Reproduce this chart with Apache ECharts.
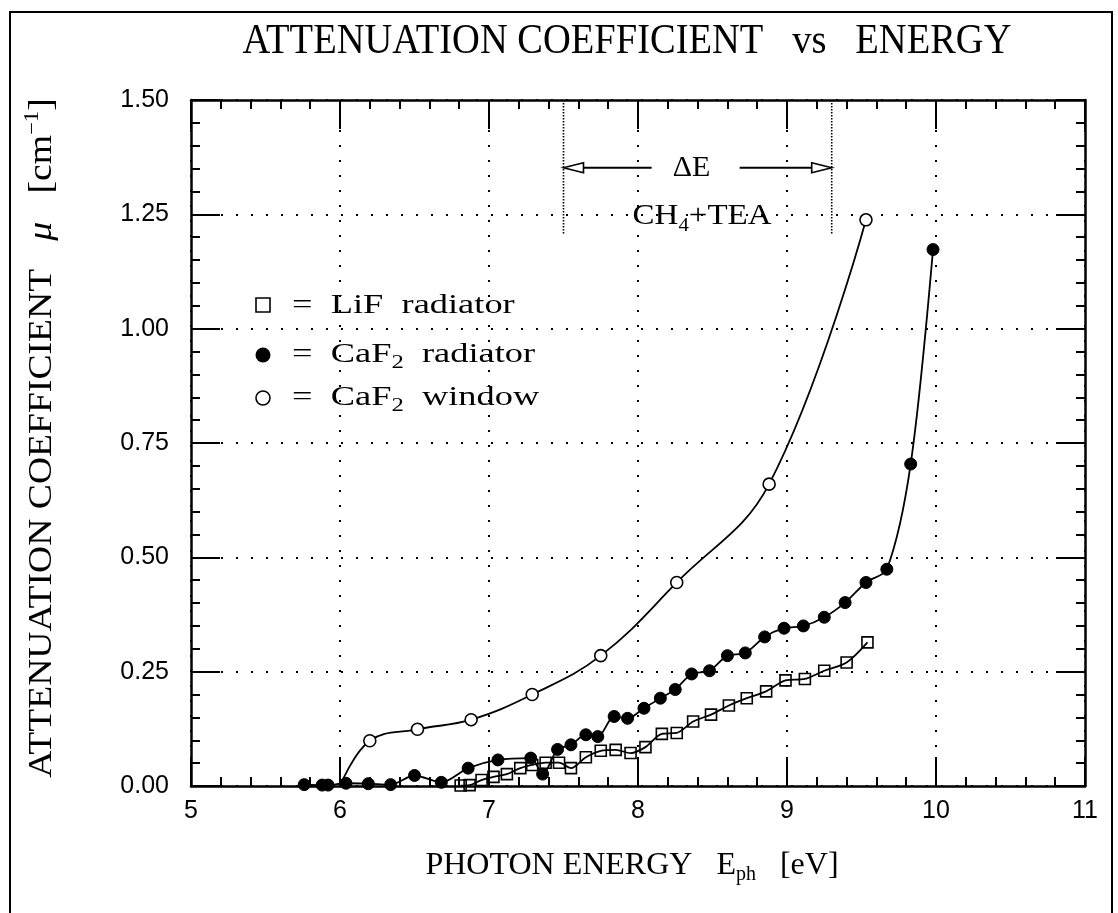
<!DOCTYPE html>
<html>
<head>
<meta charset="utf-8">
<script src="https://cdn.jsdelivr.net/npm/echarts@6/dist/echarts.min.js"></script>
<style>
  html, body { margin: 0; padding: 0; background: #fff; }
  #chart { width: 1118px; height: 913px; }
</style>
</head>
<body>
<div id="chart"></div>
<script>
// Axis ranges and ticks
const xTicks = [5, 6, 7, 8, 9, 10, 11];
const yTicks = [0.00, 0.25, 0.50, 0.75, 1.00, 1.25, 1.50];

// LiF radiator (open squares)
const lifEnergy = [6.81, 6.87, 6.95, 7.03, 7.12, 7.21, 7.29, 7.38, 7.47, 7.55, 7.65, 7.75, 7.85, 7.95, 8.05,
                   8.16, 8.26, 8.37, 8.49, 8.61, 8.73, 8.86, 8.99, 9.12, 9.25, 9.40, 9.54];
const lifMu     = [0.001, 0.002, 0.013, 0.020, 0.026, 0.039, 0.046, 0.051, 0.051, 0.039, 0.063, 0.077, 0.079, 0.072, 0.085,
                   0.114, 0.116, 0.141, 0.156, 0.176, 0.192, 0.207, 0.231, 0.234, 0.252, 0.270, 0.314];

// CaF2 radiator (filled circles)
const cafRadEnergy = [5.76, 5.88, 5.92, 6.04, 6.19, 6.34, 6.50, 6.68, 6.86, 7.06, 7.28, 7.36, 7.46, 7.55, 7.65,
                      7.73, 7.84, 7.93, 8.04, 8.15, 8.25, 8.36, 8.48, 8.60, 8.72, 8.85, 8.98, 9.11, 9.25, 9.39,
                      9.53, 9.67, 9.83, 9.98];
const cafRadMu     = [0.003, 0.002, 0.002, 0.006, 0.005, 0.003, 0.023, 0.008, 0.039, 0.057, 0.061, 0.026, 0.080, 0.090, 0.112,
                      0.108, 0.152, 0.148, 0.170, 0.192, 0.211, 0.245, 0.252, 0.285, 0.291, 0.326, 0.345, 0.350, 0.369, 0.401,
                      0.445, 0.474, 0.704, 1.173];

// CaF2 window (open circles); the curve starts at the absorption edge without a marker
const cafWinEnergy = [6.00, 6.20, 6.52, 6.88, 7.29, 7.75, 8.26, 8.88, 9.53];
const cafWinMu     = [0.000, 0.099, 0.124, 0.145, 0.200, 0.285, 0.445, 0.660, 1.238];

// Detector sensitivity window for CH4+TEA
const deltaEBand   = [7.5, 9.3];
const deltaEArrowMu = 1.352;
const deltaEBandBottom = 1.205;
const deltaELabelAt = [8.36, 1.352];
const gasLabelAt    = [8.43, 1.245];

const SERIF = '"Liberation Serif", "DejaVu Serif", serif';
const SANS = '"Liberation Sans", Arial, sans-serif';

function pairs(xs, ys) { return xs.map((x, i) => [x, ys[i]]); }

const windowData = pairs(cafWinEnergy, cafWinMu).map((p, i) =>
  i === 0 ? { value: p, symbol: 'none' } : p);

const chart = echarts.init(document.getElementById('chart'), null, { renderer: 'canvas' });

const axisCommon = {
  type: 'value',
  axisLine: { show: true, onZero: false, lineStyle: { color: '#000', width: 2.5 } },
  axisTick: { show: true, inside: true, length: 29, lineStyle: { color: '#000', width: 2 } },
  minorTick: { show: true, splitNumber: 5, length: 9, lineStyle: { color: '#000', width: 2 } }
};
const dotted = { show: true, lineStyle: { color: '#000', width: 2, type: [2, 13] } };

chart.setOption({
  animation: false,
  backgroundColor: '#fff',
  grid: { left: 191, right: 33, top: 100, bottom: 127, containLabel: false },
  xAxis: [
    Object.assign({}, axisCommon, {
      min: xTicks[0], max: xTicks[xTicks.length - 1], interval: xTicks[1] - xTicks[0],
      position: 'bottom',
      axisLabel: { color: '#000', fontFamily: SANS, fontSize: 25, margin: 13 },
      splitLine: dotted
    }),
    Object.assign({}, axisCommon, {
      min: xTicks[0], max: xTicks[xTicks.length - 1], interval: xTicks[1] - xTicks[0],
      position: 'top',
      axisLabel: { show: false },
      splitLine: { show: false }
    })
  ],
  yAxis: [
    Object.assign({}, axisCommon, {
      min: yTicks[0], max: yTicks[yTicks.length - 1], interval: yTicks[1] - yTicks[0],
      position: 'left',
      axisLabel: { color: '#000', fontFamily: SANS, fontSize: 25, margin: 22,
                   formatter: v => v.toFixed(2) },
      splitLine: dotted
    }),
    Object.assign({}, axisCommon, {
      min: yTicks[0], max: yTicks[yTicks.length - 1], interval: yTicks[1] - yTicks[0],
      position: 'right',
      axisLabel: { show: false },
      splitLine: { show: false }
    })
  ],
  series: [
    {
      name: 'LiF radiator', type: 'line', smooth: 0.3,
      data: pairs(lifEnergy, lifMu),
      symbol: 'rect', symbolSize: 11, showAllSymbol: true,
      lineStyle: { color: '#000', width: 1.8 },
      itemStyle: { color: 'rgba(255,255,255,0)', borderColor: '#000', borderWidth: 1.6 },
      z: 3
    },
    {
      name: 'CaF2 radiator', type: 'line', smooth: 0.3,
      data: pairs(cafRadEnergy, cafRadMu),
      symbol: 'circle', symbolSize: 12, showAllSymbol: true,
      lineStyle: { color: '#000', width: 1.8 },
      itemStyle: { color: '#000', borderColor: '#000', borderWidth: 1 },
      z: 4
    },
    {
      name: 'CaF2 window', type: 'line', smooth: 0.4,
      data: windowData,
      symbol: 'circle', symbolSize: 12, showAllSymbol: true,
      lineStyle: { color: '#000', width: 1.8 },
      itemStyle: { color: '#fff', borderColor: '#000', borderWidth: 1.6 },
      z: 5
    },
    {
      name: 'deltaE', type: 'custom', silent: true, clip: false, z: 6,
      data: [[deltaEBand[0], deltaEBand[1]]],
      renderItem: function (params, api) {
        const top = yTicks[yTicks.length - 1];
        const l0 = api.coord([deltaEBand[0], top]);
        const l1 = api.coord([deltaEBand[0], deltaEBandBottom]);
        const r0 = api.coord([deltaEBand[1], top]);
        const r1 = api.coord([deltaEBand[1], deltaEBandBottom]);
        const ay = api.coord([deltaEBand[0], deltaEArrowMu])[1];
        const lab = api.coord(deltaELabelAt);
        const gas = api.coord(gasLabelAt);
        const head = 20, half = 5;
        const dash = { stroke: '#000', lineWidth: 1.6, lineDash: [1.5, 1.5] };
        const solid = { stroke: '#000', lineWidth: 2 };
        return {
          type: 'group',
          children: [
            { type: 'line', shape: { x1: l0[0], y1: l0[1], x2: l1[0], y2: l1[1] }, style: dash },
            { type: 'line', shape: { x1: r0[0], y1: r0[1], x2: r1[0], y2: r1[1] }, style: dash },
            { type: 'line', shape: { x1: l0[0] + head, y1: ay, x2: lab[0] - 40, y2: ay }, style: solid },
            { type: 'line', shape: { x1: lab[0] + 48, y1: ay, x2: r0[0] - head, y2: ay }, style: solid },
            { type: 'polygon', shape: { points: [[l0[0], ay], [l0[0] + head, ay - half], [l0[0] + head, ay + half]] },
              style: { fill: '#fff', stroke: '#000', lineWidth: 1.6 } },
            { type: 'polygon', shape: { points: [[r0[0], ay], [r0[0] - head, ay - half], [r0[0] - head, ay + half]] },
              style: { fill: '#fff', stroke: '#000', lineWidth: 1.6 } },
            { type: 'text', x: lab[0], y: lab[1],
              style: { text: 'ΔE', fill: '#000', font: '30px ' + SERIF, align: 'center', verticalAlign: 'middle' } },
            { type: 'text', x: gas[0], y: gas[1], scaleX: 1.1,
              style: { text: 'CH{sub|4}+TEA', fill: '#000', font: '30px ' + SERIF, align: 'center', verticalAlign: 'middle',
                       rich: { sub: { fontSize: 19, fontFamily: SERIF, padding: [18, 0, 0, 0] } } } }
          ]
        };
      }
    }
  ],
  graphic: [
    // page frame
    { type: 'rect', shape: { x: 10, y: 12, width: 1102, height: 960 },
      style: { fill: 'none', stroke: '#000', lineWidth: 2 }, silent: true },
    // title
    { type: 'text', x: 627, y: 42, scaleY: 1.1,
      style: { text: 'ATTENUATION COEFFICIENT   vs   ENERGY', fill: '#000', font: '38.5px ' + SERIF,
               align: 'center', verticalAlign: 'middle' } },
    // x axis title
    { type: 'text', x: 632, y: 866,
      style: { text: 'PHOTON ENERGY   E{sub|ph}   [eV]', fill: '#000', font: '32px ' + SERIF,
               align: 'center', verticalAlign: 'middle',
               rich: { sub: { fontSize: 20, fontFamily: SERIF, padding: [18, 0, 0, 0] } } } },
    // y axis title
    { type: 'text', x: 42, y: 438, rotation: Math.PI / 2, scaleX: 1.14,
      style: { text: 'ATTENUATION COEFFICIENT   {it|μ}   [cm{sup|−1}]', fill: '#000', font: '33px ' + SERIF,
               align: 'center', verticalAlign: 'middle',
               rich: { it: { fontSize: 33, fontStyle: 'italic', fontFamily: SERIF },
                       sup: { fontSize: 20, fontFamily: SERIF, padding: [0, 0, 18, 0] } } } },
    // legend
    { type: 'rect', shape: { x: 256, y: 298, width: 14, height: 14 },
      style: { fill: '#fff', stroke: '#000', lineWidth: 1.6 } },
    { type: 'circle', shape: { cx: 263, cy: 355, r: 7.5 }, style: { fill: '#000' } },
    { type: 'circle', shape: { cx: 263, cy: 398, r: 7 }, style: { fill: '#fff', stroke: '#000', lineWidth: 1.6 } },
    { type: 'text', x: 292, y: 306, scaleX: 1.3,
      style: { text: '=  LiF  radiator', fill: '#000', font: '28px ' + SERIF, verticalAlign: 'middle' } },
    { type: 'text', x: 292, y: 355, scaleX: 1.3,
      style: { text: '=  CaF{sub|2}  radiator', fill: '#000', font: '28px ' + SERIF, verticalAlign: 'middle',
               rich: { sub: { fontSize: 19, fontFamily: SERIF, padding: [16, 0, 0, 0] } } } },
    { type: 'text', x: 292, y: 398, scaleX: 1.3,
      style: { text: '=  CaF{sub|2}  window', fill: '#000', font: '28px ' + SERIF, verticalAlign: 'middle',
               rich: { sub: { fontSize: 19, fontFamily: SERIF, padding: [16, 0, 0, 0] } } } }
  ]
});
</script>
</body>
</html>
